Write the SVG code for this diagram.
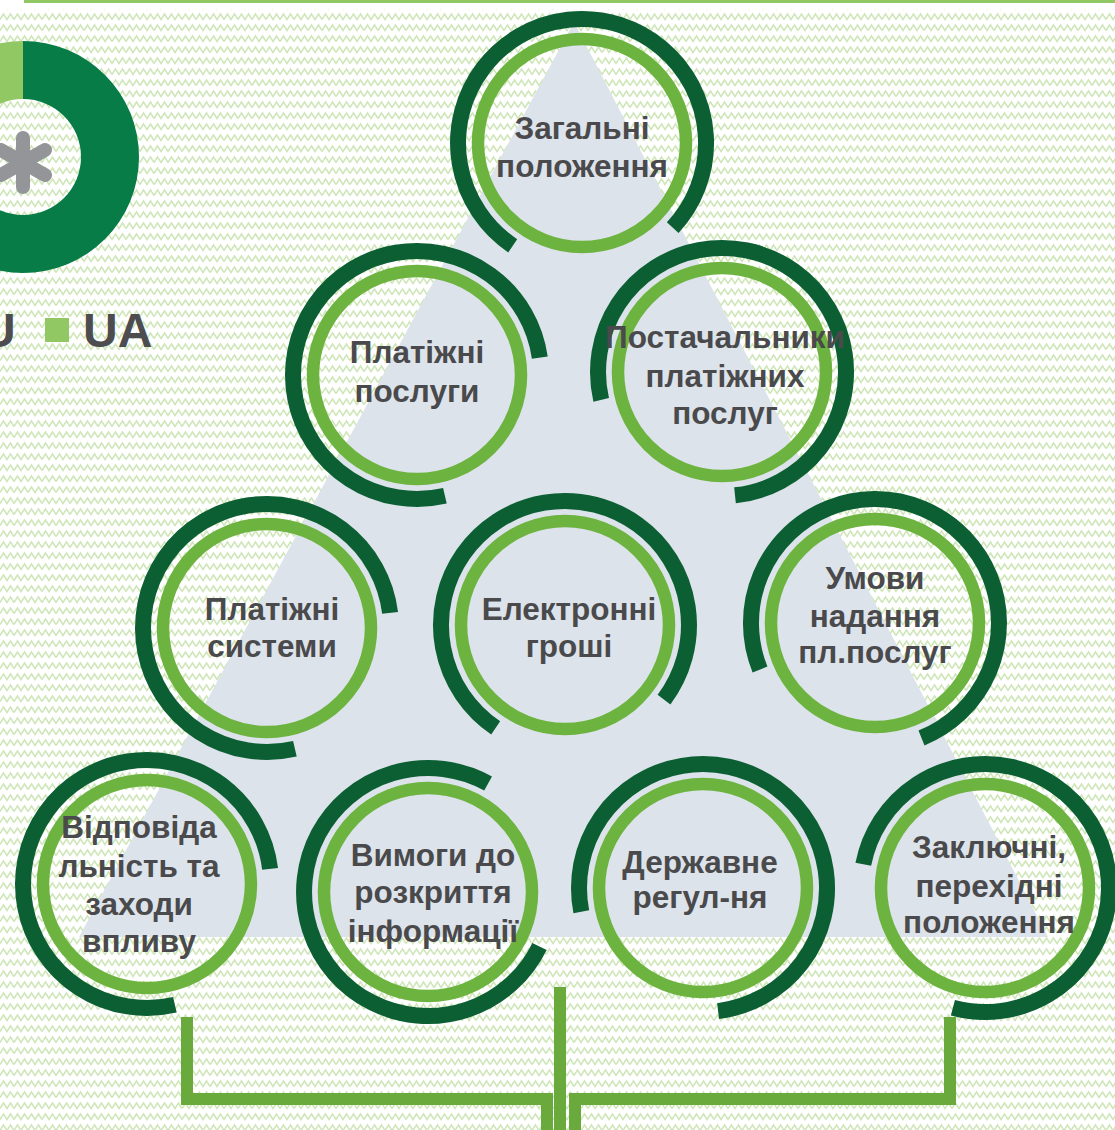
<svg xmlns="http://www.w3.org/2000/svg" width="1115" height="1130" viewBox="0 0 1115 1130">
<defs>
<pattern id="zz" width="14" height="11" patternUnits="userSpaceOnUse">
<polyline points="0,8.5 3.5,3 7,8.5 10.5,3 14,8.5" fill="none" stroke="#cfe6b9" stroke-width="1.5"/>
</pattern>
<style>
.dark{fill:none;stroke:#0c5f33;stroke-width:16}
.light{fill:none;stroke:#6db33f;stroke-width:12.5}
.lbl{font-family:"Liberation Sans",Arial,sans-serif;font-weight:bold;font-size:31.5px;fill:#4a4a4c;text-anchor:middle}
.con{fill:none;stroke:#6aaa3c}
</style>
</defs>
<rect x="0" y="0" width="1115" height="1130" fill="#ffffff"/>
<rect x="0" y="9" width="1115" height="1121" fill="url(#zz)"/>
<rect x="24" y="0" width="1091" height="3" fill="#92c864"/>

<g id="chart">
<path d="M23,157 m0,-116 A116,116 0 1 1 -93,157 L-35,157 A58,58 0 1 0 23,99 Z" fill="#077c47"/>
<path d="M23,41 A116,116 0 0 0 -93,157 L-35,157 A58,58 0 0 1 23,99 Z" fill="#92c864"/>
<g stroke="#939598" stroke-width="14" stroke-linecap="round">
<line x1="23" y1="138" x2="23" y2="187"/>
<line x1="1" y1="150" x2="45" y2="175"/>
<line x1="1" y1="175" x2="45" y2="150"/>
</g>
<text x="-19" y="347" font-family="Liberation Sans,Arial,sans-serif" font-weight="bold" font-size="48" fill="#4d4d4f">U</text>
<rect x="45" y="318" width="24" height="24" fill="#92c864"/>
<text x="83" y="347" font-family="Liberation Sans,Arial,sans-serif" font-weight="bold" font-size="48" fill="#4d4d4f">UA</text>
</g>

<polygon id="pyramid" points="574,22 79,937 1048,937" fill="#dce3ea"/>

<g id="connectors">
<path class="con" stroke-width="12" d="M187,1017 V1099 H547 V1130"/>
<path class="con" stroke-width="12" d="M950,1017 V1099 H575 V1130"/>
<path class="con" stroke-width="12" d="M560,987 V1130"/>
</g>

<g id="n1">
<path class="dark" d="M512.7,245.8 A124,124 0 1 1 672.7,227.6"/>
<circle class="light" cx="582" cy="143" r="104"/>
<text class="lbl" x="582" y="139">Загальні</text>
<text class="lbl" x="582" y="177">положення</text>
</g>
<g id="n2">
<path class="dark" d="M444.9,495.8 A124,124 0 1 1 539.8,357.7"/>
<circle class="light" cx="417" cy="375" r="104"/>
<text class="lbl" x="417" y="363">Платіжні</text>
<text class="lbl" x="417" y="402">послуги</text>
</g>
<g id="n3">
<path class="dark" d="M601.2,399.9 A124,124 0 1 1 735,495.3"/>
<circle class="light" cx="722" cy="372" r="104"/>
<text class="lbl" x="725" y="348">Постачальники</text>
<text class="lbl" x="725" y="387">платіжних</text>
<text class="lbl" x="725" y="424">послуг</text>
</g>
<g id="n4">
<path class="dark" d="M294.9,748.8 A124,124 0 1 1 390.1,612.9"/>
<circle class="light" cx="267" cy="628" r="104"/>
<text class="lbl" x="272" y="620">Платіжні</text>
<text class="lbl" x="272" y="657">системи</text>
</g>
<g id="n5">
<path class="dark" d="M495.7,727.8 A124,124 0 1 1 664,699.6"/>
<circle class="light" cx="565" cy="625" r="104"/>
<text class="lbl" x="569" y="620">Електронні</text>
<text class="lbl" x="569" y="657">гроші</text>
</g>
<g id="n6">
<path class="dark" d="M760,669.5 A124,124 0 1 1 921.5,738"/>
<circle class="light" cx="875" cy="623" r="104"/>
<text class="lbl" x="875" y="589">Умови</text>
<text class="lbl" x="875" y="627">надання</text>
<text class="lbl" x="875" y="663">пл.послуг</text>
</g>
<g id="n7">
<path class="dark" d="M174.9,1004.8 A124,124 0 1 1 270.1,868.9"/>
<circle class="light" cx="147" cy="884" r="104"/>
<text class="lbl" x="139" y="838">Відповіда</text>
<text class="lbl" x="139" y="877">льність та</text>
<text class="lbl" x="139" y="915">заходи</text>
<text class="lbl" x="139" y="952">впливу</text>
</g>
<g id="n8">
<path class="dark" d="M539.5,946.4 A124,124 0 1 1 488.1,783.5"/>
<circle class="light" cx="428" cy="892" r="104"/>
<text class="lbl" x="433" y="866">Вимоги до</text>
<text class="lbl" x="433" y="903">розкриття</text>
<text class="lbl" x="433" y="942">інформації</text>
</g>
<g id="n9">
<path class="dark" d="M581.3,911.7 A124,124 0 1 1 718.1,1011.1"/>
<circle class="light" cx="703" cy="888" r="104"/>
<text class="lbl" x="700" y="873">Державне</text>
<text class="lbl" x="700" y="908">регул-ня</text>
</g>
<g id="n10">
<path class="dark" d="M863.3,864.3 A124,124 0 1 1 952.9,1007.8"/>
<circle class="light" cx="985" cy="888" r="104"/>
<text class="lbl" x="989" y="858">Заключні,</text>
<text class="lbl" x="989" y="897">перехідні</text>
<text class="lbl" x="989" y="933">положення</text>
</g>
</svg>
